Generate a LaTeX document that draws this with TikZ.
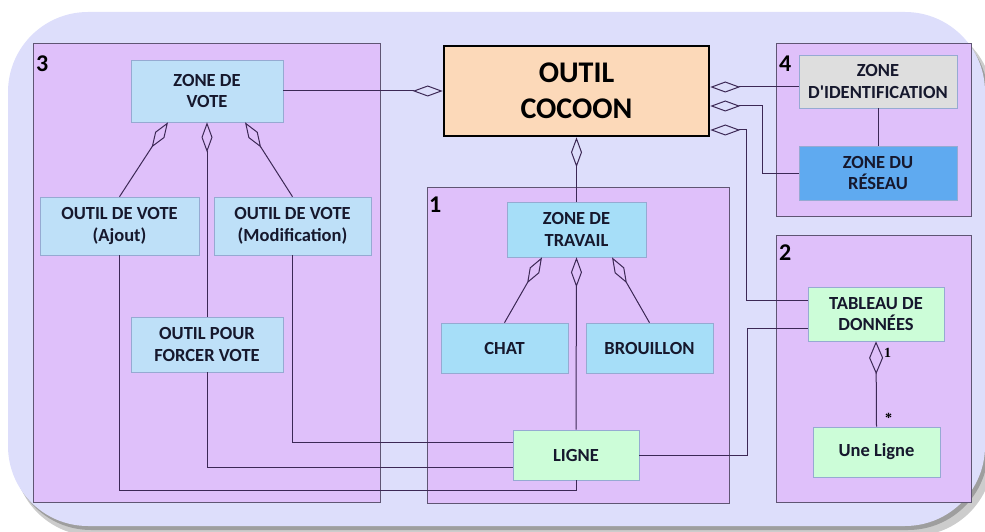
\documentclass[tikz,border=0pt]{standalone}
\usepackage{fontspec}
\setmainfont{Carlito}
\newfontfamily\serifb{Liberation Serif}
\usetikzlibrary{arrows.meta,calc}
\definecolor{bgcol}{RGB}{221,222,251}
\definecolor{grpcol}{RGB}{223,192,250}
\definecolor{grpline}{RGB}{95,85,115}
\definecolor{lblue}{RGB}{190,224,248}
\definecolor{cyanb}{RGB}{166,222,248}
\definecolor{lgreen}{RGB}{204,253,216}
\definecolor{lgrey}{RGB}{222,222,222}
\definecolor{dblue}{RGB}{95,170,240}
\definecolor{peach}{RGB}{252,217,185}
\definecolor{boxline}{RGB}{150,170,210}
\definecolor{conn}{RGB}{60,40,85}
\definecolor{txt}{RGB}{22,24,45}
\newcommand{\boxfont}{\fontsize{18.5}{21.5}\selectfont\bfseries}
\begin{document}
\begin{tikzpicture}[x=1pt,y=-1pt,
  box/.style={draw=boxline, line width=0.6pt, inner sep=0pt, align=center, font=\boxfont, text=txt},
  grp/.style={draw=grpline, fill=grpcol, line width=0.8pt},
  glabel/.style={anchor=north west, inner sep=0pt, font=\fontsize{24}{24}\selectfont\bfseries, text=black},
  link/.style={draw=conn, line width=1pt},
  agg/.style={link, arrows={Diamond[open,length=30pt,width=11pt]-}},
  card/.style={inner sep=0pt, font=\fontsize{14}{14}\selectfont\serifb\bfseries, text=black}]
\useasboundingbox (0,0) rectangle (985,532);
% background with shadow
\fill[black!20, rounded corners=80pt] (14,21) rectangle (993,536);
\fill[black!38, rounded corners=80pt] (11,17) rectangle (988,530);
\fill[bgcol, rounded corners=80pt] (8,12) rectangle (985,526);
% groups
\path[grp] (33,43) rectangle (380,502);
\path[grp] (427,187) rectangle (729,503);
\path[grp] (776,43) rectangle (971,216);
\path[grp] (776,235) rectangle (971,502);
\node[glabel] (l3) at (36,56) {3};
\node[glabel] (l1) at (429,197) {1};
\node[glabel] (l4) at (779,56) {4};
\node[glabel] (l2) at (779,245) {2};
% nodes
\node[box, fill=lblue, minimum width=152pt, minimum height=62pt] (vote) at (207,91) {ZONE DE\\VOTE};
\node[box, fill=lblue, minimum width=159pt, minimum height=58pt] (ajout) at (119.5,226) {OUTIL DE VOTE\\(Ajout)};
\node[box, fill=lblue, minimum width=157pt, minimum height=58pt] (modif) at (292.5,226) {OUTIL DE VOTE\\(Modification)};
\node[box, fill=lblue, minimum width=152pt, minimum height=55pt] (forcer) at (207,344.5) {OUTIL POUR\\FORCER VOTE};
\node[box, fill=lgreen, minimum width=126pt, minimum height=50pt] (ligne) at (576,455) {LIGNE};
\node[box, fill=cyanb, minimum width=139pt, minimum height=55pt] (travail) at (576.5,229.5) {ZONE DE\\TRAVAIL};
\node[box, fill=cyanb, minimum width=127pt, minimum height=50pt] (chat) at (504.5,348) {CHAT};
\node[box, fill=cyanb, minimum width=127pt, minimum height=50pt] (brouillon) at (649.5,348) {BROUILLON};
\node[draw=black, line width=2.6pt, fill=peach, minimum width=265pt, minimum height=90pt, inner sep=0pt, align=center,
      font=\fontsize{30}{36}\selectfont\bfseries, text=black] (cocoon) at (576.5,91) {OUTIL\\COCOON};
\node[box, fill=lgrey, minimum width=158pt, minimum height=53pt] (ident) at (878,81.5) {ZONE\\D\textquotesingle IDENTIFICATION};
\node[box, fill=dblue, minimum width=158pt, minimum height=54pt] (reseau) at (878,173) {ZONE DU\\RÉSEAU};
\node[box, fill=lgreen, minimum width=136pt, minimum height=54pt] (tableau) at (876,314) {TABLEAU DE\\DONNÉES};
\node[box, fill=lgreen, minimum width=127pt, minimum height=50pt] (uneligne) at (876.5,452) {Une Ligne};
% connectors
\draw[agg] (cocoon.west) -- (vote.east);
\draw[agg] (cocoon.south) -- (travail.north);
\draw[agg] ([yshift=4pt]cocoon.east) coordinate (c1) -- (c1 -| ident.west);
\draw[agg] ([yshift=-15pt]cocoon.east) -| ([xshift=-36pt]reseau.west) -- (reseau.west);
\draw[agg] ([yshift=-39pt]cocoon.east) -| ([xshift=-61pt,yshift=14pt]tableau.west) -- ([yshift=14pt]tableau.west);
\draw[link] (ligne.east) -| ([xshift=-60pt,yshift=-14pt]tableau.west) -- ([yshift=-14pt]tableau.west);
\draw[agg] ([xshift=-39pt]vote.south) -- (ajout.north);
\draw[agg] (vote.south) -- (forcer.north);
\draw[agg] ([xshift=38pt]vote.south) -- (modif.north);
\draw[link] (ajout.south) |- ([yshift=-10pt]ligne.south) -- (ligne.south);
\draw[link] (modif.south) |- ([yshift=13pt]ligne.west);
\draw[link] (forcer.south) |- ([yshift=-12pt]ligne.west);
\draw[agg] ([xshift=-34.5pt]travail.south) -- (chat.north);
\draw[agg] (travail.south) -- (ligne.north);
\draw[agg] ([xshift=35.5pt]travail.south) -- (brouillon.north);
\draw[link] (ident.south) -- (reseau.north);
\draw[link, arrows={Diamond[open,length=33pt,width=14pt]-}] (tableau.south) -- (uneligne.north);
\node[card, anchor=west] (m1) at (884,353) {1};
\node[card, anchor=west] (m2) at (885,418) {*};
\end{tikzpicture}
\end{document}
